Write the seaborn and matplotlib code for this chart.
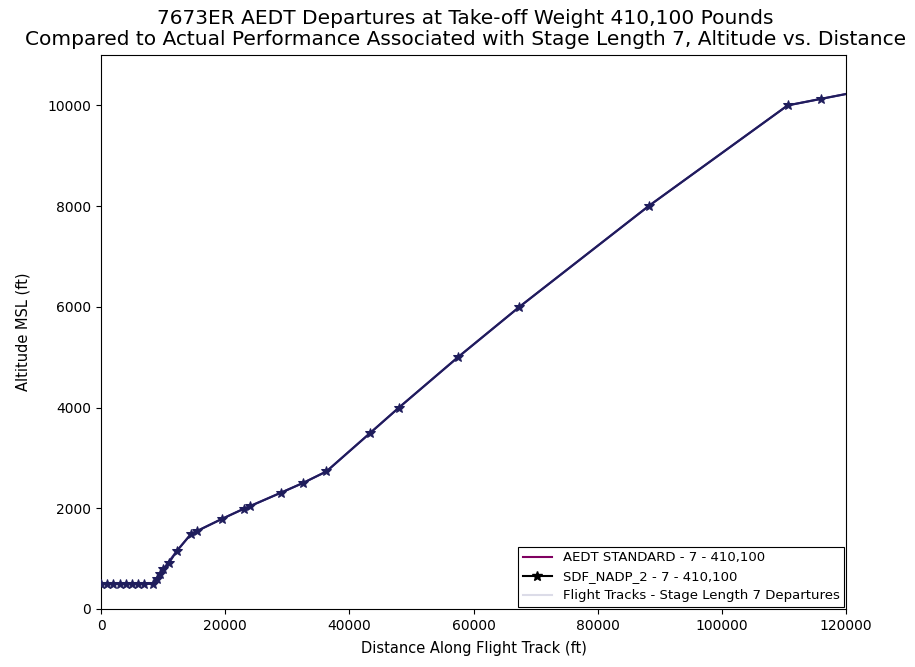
import matplotlib
matplotlib.use("Agg")
import matplotlib.pyplot as plt
from matplotlib.lines import Line2D
import seaborn as sns
import pandas as pd

# AEDT standard profile
aedt_dist = [0, 8300, 9500, 12200, 14500, 19500, 23000, 29000, 32500, 36300,
             43400, 48000, 57500, 67400, 88200, 110600, 116000, 121000]
aedt_alt = [500, 500, 700, 1150, 1490, 1790, 1990, 2310, 2500, 2730,
            3500, 4000, 5000, 6000, 8000, 10000, 10130, 10250]

# SDF_NADP_2 profile
sdf_dist = [0, 1000, 2000, 3000, 4000, 5000, 6000, 7000, 8300, 9000, 9500,
            10000, 11000, 12200, 14500, 15500, 19500, 23000, 24000, 29000,
            32500, 36300, 43400, 48000, 57500, 67400, 88200, 110600, 116000, 121000]
sdf_alt = [500, 500, 500, 500, 500, 500, 500, 500, 500, 600, 700,
           800, 920, 1150, 1490, 1550, 1790, 1990, 2040, 2310,
           2500, 2730, 3500, 4000, 5000, 6000, 8000, 10000, 10130, 10250]

labels = ["AEDT STANDARD - 7 - 410,100", "SDF_NADP_2 - 7 - 410,100",
          "Flight Tracks - Stage Length 7 Departures"]

df_a = pd.DataFrame({"dist": aedt_dist, "alt": aedt_alt})
df_s = pd.DataFrame({"dist": sdf_dist, "alt": sdf_alt})

fig = plt.figure(figsize=(9.15, 6.67), dpi=100)
ax = fig.add_axes([0.1104, 0.087, 0.8142, 0.8305])

sns.lineplot(data=df_a, x="dist", y="alt", ax=ax, color="#3b1e78", lw=1.6,
             sort=False, zorder=2)
sns.lineplot(data=df_s, x="dist", y="alt", ax=ax, color="#1f1d5c", lw=1.4,
             marker="*", markersize=7, markeredgecolor="#1f1d5c",
             sort=False, zorder=3)

ax.set_xlim(0, 120000)
ax.set_ylim(0, 11000)
ax.set_xticks([0, 20000, 40000, 60000, 80000, 100000, 120000])
ax.set_yticks([0, 2000, 4000, 6000, 8000, 10000])
ax.tick_params(labelsize=10)
ax.set_xlabel("Distance Along Flight Track (ft)", fontsize=10.5, labelpad=6)
ax.set_ylabel("Altitude MSL (ft)", fontsize=10.5, labelpad=12)
fig.text(0.509, 0.986, "7673ER AEDT Departures at Take-off Weight 410,100 Pounds\n"
         "Compared to Actual Performance Associated with Stage Length 7, Altitude vs. Distance",
         ha="center", va="top", fontsize=14.5, linespacing=1.1)

handles = [Line2D([], [], color="#800060", lw=1.5),
           Line2D([], [], color="black", lw=1.5, marker="*", markersize=7),
           Line2D([], [], color="#dcdce8", lw=1.5)]
leg = ax.legend(handles, labels, loc="lower right", fontsize=9.5, fancybox=False,
                framealpha=1, edgecolor="black", borderaxespad=0.15,
                handlelength=2.2, borderpad=0.35, labelspacing=0.45)
leg.get_frame().set_linewidth(0.8)

fig.savefig("out.png", dpi=100)
